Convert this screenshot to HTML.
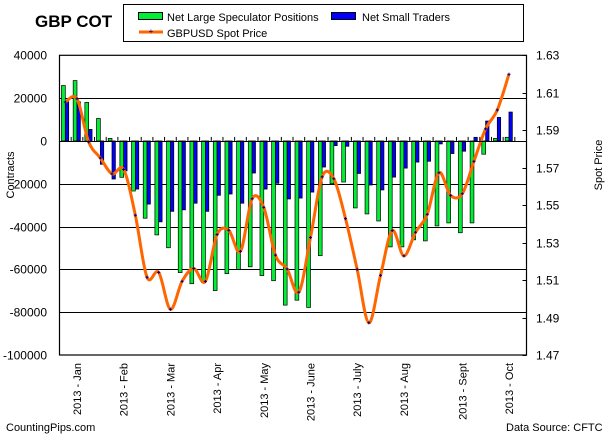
<!DOCTYPE html>
<html><head><meta charset="utf-8"><style>
html,body{margin:0;padding:0;background:#fff}
svg{display:block;font-family:"Liberation Sans",Arial,sans-serif}
</style></head><body>
<svg id="chart" width="611" height="442" viewBox="0 0 611 442">
<text x="35" y="27" font-size="17" font-weight="bold">GBP COT</text>
<g>
<rect x="123.5" y="4.5" width="400" height="37" fill="#fff" stroke="#000"/>
<rect x="138.5" y="12.5" width="24" height="7" fill="#00ee33" stroke="#000"/>
<text x="167" y="21" font-size="11">Net Large Speculator Positions</text>
<rect x="331.5" y="12.5" width="24" height="7" fill="#0000ff" stroke="#000"/>
<text x="362" y="21" font-size="11">Net Small Traders</text>
<line x1="139" y1="32" x2="163" y2="32" stroke="#ff6600" stroke-width="3"/>
<text x="151" y="34" font-size="8" fill="#000080" text-anchor="middle">+</text>
<text x="167" y="37" font-size="11">GBPUSD Spot Price</text>
</g>
<text transform="translate(14,175) rotate(-90)" font-size="11" text-anchor="middle">Contracts</text>
<text transform="translate(602,165) rotate(-90)" font-size="11" text-anchor="middle">Spot Price</text>
<text x="6" y="431" font-size="11">CountingPips.com</text>
<text x="506" y="431" font-size="11">Data Source: CFTC</text>
<g id="grid"></g><g id="bars"></g><g id="line"></g><g id="axes"></g>
</svg>
<script>
const categories = ["Jan1","Jan2","Jan3","Jan4","Feb1","Feb2","Feb3","Feb4","Mar1","Mar2","Mar3","Mar4","Apr1","Apr2","Apr3","Apr4","May1","May2","May3","May4","Jun1","Jun2","Jun3","Jun4","Jun5","Jul1","Jul2","Jul3","Jul4","Aug1","Aug2","Aug3","Aug4","Aug5","Sep1","Sep2","Sep3","Sep4","Oct1"];
const largeSpec = [25900,28200,18000,10500,1200,-17000,-23400,-36100,-43900,-49900,-61500,-66700,-66200,-69900,-62000,-60000,-58800,-62900,-65300,-76700,-74400,-77800,-53600,-20000,-19200,-31300,-34100,-37400,-49500,-49500,-46200,-46700,-39700,-38300,-42900,-38300,-6200,1200,1700];
const smallTraders = [18300,18300,5400,-10900,-17800,-14000,-22500,-29500,-37800,-32900,-32200,-29100,-32900,-25400,-24800,-29100,-15000,-22500,-19800,-27100,-26700,-23900,-12200,-2200,-2500,-15200,-20600,-22900,-16900,-12700,-9900,-9500,-1400,-5900,-4800,1700,9300,11000,13500];
const spotPrice = [1.605,1.6068,1.5838,1.5752,1.5667,1.569,1.5446,1.5115,1.5141,1.4944,1.5093,1.5162,1.5093,1.5343,1.5366,1.5253,1.5534,1.5488,1.5233,1.5159,1.5035,1.5327,1.5651,1.5641,1.5428,1.5157,1.4872,1.5125,1.5364,1.5229,1.5355,1.5451,1.5673,1.5552,1.5561,1.5734,1.5907,1.6008,1.6199];
const leftTicks = [40000,20000,0,-20000,-40000,-60000,-80000,-100000];
const rightTicks = ["1.63","1.61","1.59","1.57","1.55","1.53","1.51","1.49","1.47"];
const xLabels = [[1,"2013 - Jan"],[5,"2013 - Feb"],[9,"2013 - Mar"],[13,"2013 - Apr"],[17,"2013 - May"],[21,"2013 - June"],[25,"2013 - July"],[29,"2013 - Aug"],[34,"2013 - Sept"],[38,"2013 - Oct"]];

const NS="http://www.w3.org/2000/svg";
const L=59.5,R=526.5,T=55.3,B=355;
const slot=(R-L)/(categories.length+1);
const yL=v=>T+(40000-v)/140000*(B-T);
const yR=p=>T+(1.63-p)/0.16*(B-T);
const xS=i=>L+i*slot;
function mk(tag,attrs,parent){const e=document.createElementNS(NS,tag);for(const k in attrs)e.setAttribute(k,attrs[k]);document.getElementById(parent).appendChild(e);return e;}

leftTicks.forEach((v,i)=>{
  const y=Math.round(yL(v))+0.5;
  if(v!==40000&&v!==-100000){const g=mk('line',{x1:L,x2:R,y1:y,y2:y,stroke:'#000','stroke-width':1},'grid');
  
  }
  const t=mk('text',{x:47,y:y+4,'font-size':12,'text-anchor':'end'},'axes');t.textContent=v;
  
  
});
rightTicks.forEach(s=>{
  const y=Math.round(yR(parseFloat(s)))+0.5;
  const tk=mk('line',{x1:R-4,x2:R,y1:y,y2:y,stroke:'#000'},'axes');
  
  
  const t=mk('text',{x:536,y:y+4,'font-size':12},'axes');t.textContent=s;
  
  
});
categories.forEach((c,i)=>{
  const y0=yL(0);
  const g1=yL(largeSpec[i]);
  const gb=mk('rect',{x:xS(i)+2,y:Math.min(g1,y0),width:3.8,height:Math.max(0.5,Math.abs(g1-y0)),fill:'#00ee33',stroke:'#000','stroke-width':0.7},'bars');
  
  
  const b1=yL(smallTraders[i]);
  const bb=mk('rect',{x:xS(i)+5.8,y:Math.min(b1,y0),width:3.4,height:Math.max(0.5,Math.abs(b1-y0)),fill:'#0000ff',stroke:'#000','stroke-width':0.7},'bars');
  
  
  const tk=mk('line',{x1:xS(i+1),x2:xS(i+1),y1:y0-4,y2:y0,stroke:'#000'},'axes');
  
  
});
const zl=mk('line',{x1:L,x2:R,y1:Math.round(yL(0))+0.5,y2:Math.round(yL(0))+0.5,stroke:'#000'},'axes');


const fr=mk('rect',{x:L,y:T,width:R-L,height:B-T,fill:'none',stroke:'#000','stroke-width':1.2},'axes');


// smooth price line
const pts=spotPrice.map((p,i)=>[xS(i)+5.8,yR(p)]);
let d='M'+pts[0][0]+','+pts[0][1];
for(let i=0;i<pts.length-1;i++){
  const p0=pts[Math.max(0,i-1)],p1=pts[i],p2=pts[i+1],p3=pts[Math.min(pts.length-1,i+2)];
  const c1=[p1[0]+(p2[0]-p0[0])/6,p1[1]+(p2[1]-p0[1])/6],c2=[p2[0]-(p3[0]-p1[0])/6,p2[1]-(p3[1]-p1[1])/6];
  d+=` C${c1[0]},${c1[1]} ${c2[0]},${c2[1]} ${p2[0]},${p2[1]}`;
}
const ln=mk('path',{d:d,fill:'none',stroke:'#ff6600','stroke-width':3,'stroke-linejoin':'round'},'line');


pts.forEach(p=>{
  const m=mk('path',{d:`M${p[0]-1.5},${p[1]}h3M${p[0]},${p[1]-1.5}v3`,stroke:'#000080','stroke-width':1},'line');
  
  
});
xLabels.forEach(([i,s])=>{
  const x=xS(i)+5.8+4;
  const t=mk('text',{transform:`translate(${x},363) rotate(-90)`,'font-size':11,'text-anchor':'end'},'axes');t.textContent=s;
  
  
});
</script>
</body></html>
